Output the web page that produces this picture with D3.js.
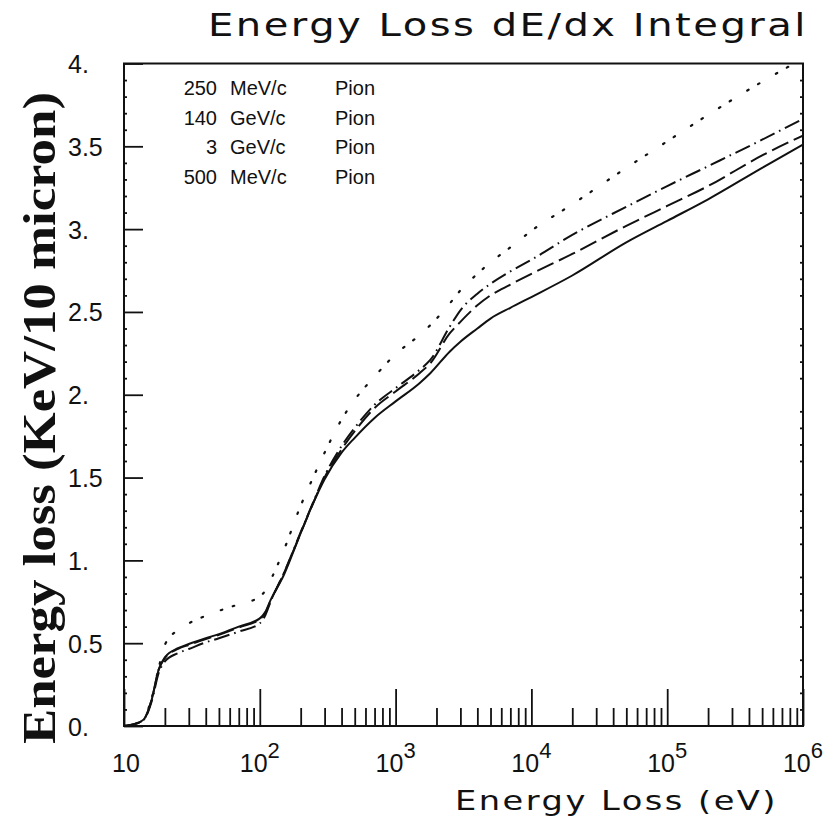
<!DOCTYPE html>
<html lang="en">
<head>
  <meta charset="UTF-8">
  <title>Energy Loss dE/dx Integral</title>
  <script src="https://d3js.org/d3.v7.min.js"></script>
  <style>
    body { margin: 0; background: #fff; }
    text { font-family: "Liberation Sans", Arial, sans-serif; fill: #111; }
  </style>
</head>
<body>

<div id="chart"></div>

<script>
// energy grid (eV) shared by all curves
const energies = [10, 12, 14, 16, 18, 20, 25, 30, 40, 50, 70, 100, 110, 120, 150, 200, 250, 300,
  400, 500, 700, 1000, 1500, 1800, 2500, 3000, 4000, 5000, 7000, 10000, 20000, 50000,
  1e5, 2e5, 5e5, 1e6];

// integral dE/dx (KeV / 10 micron)
const pion250MeV = [0, 0.012, 0.045, 0.17, 0.35, 0.49, 0.58, 0.62, 0.665, 0.695, 0.735, 0.78, 0.82, 0.88,
  1.06, 1.33, 1.51, 1.65, 1.85, 1.97, 2.11, 2.245, 2.36, 2.42, 2.55, 2.63, 2.73, 2.80, 2.89,
  2.99, 3.15, 3.37, 3.53, 3.69, 3.89, 4.03];
const pion140GeV = [0, 0.011, 0.038, 0.15, 0.32, 0.39, 0.44, 0.465, 0.505, 0.53, 0.57, 0.62, 0.67, 0.75,
  0.92, 1.17, 1.36, 1.51, 1.69, 1.80, 1.94, 2.04, 2.15, 2.21, 2.41, 2.51, 2.61, 2.67, 2.745,
  2.815, 2.965, 3.135, 3.26, 3.38, 3.54, 3.665];
const pion3GeV = [0, 0.012, 0.04, 0.16, 0.34, 0.41, 0.465, 0.49, 0.525, 0.55, 0.595, 0.645, 0.685, 0.755,
  0.92, 1.165, 1.355, 1.50, 1.67, 1.78, 1.92, 2.02, 2.13, 2.19, 2.37, 2.44, 2.54, 2.60, 2.665,
  2.73, 2.85, 3.02, 3.14, 3.26, 3.445, 3.565];
const pion500MeV = [0, 0.012, 0.04, 0.16, 0.34, 0.415, 0.47, 0.495, 0.53, 0.555, 0.60, 0.65, 0.69, 0.76,
  0.91, 1.165, 1.355, 1.49, 1.65, 1.74, 1.86, 1.96, 2.07, 2.13, 2.26, 2.32, 2.40, 2.46, 2.525,
  2.59, 2.72, 2.92, 3.05, 3.18, 3.37, 3.51];

const momenta = ["250", "140", "3", "500"];
const units = ["MeV/c", "GeV/c", "GeV/c", "MeV/c"];
const particles = ["Pion", "Pion", "Pion", "Pion"];

const xMajorTicks = [10, 1e2, 1e3, 1e4, 1e5, 1e6];
const xExponents = ["", "2", "3", "4", "5", "6"];
const yTicks = [0, 0.5, 1, 1.5, 2, 2.5, 3, 3.5, 4];
const yTickLabels = ["0.", "0.5", "1.", "1.5", "2.", "2.5", "3.", "3.5", "4."];

const width = 838, height = 826;
const plotLeft = 124, plotRight = 803, plotTop = 63.5, plotBottom = 726;

const x = d3.scaleLog().domain([10, 1e6]).range([plotLeft, plotRight]);
const y = d3.scaleLinear().domain([0, 4]).range([plotBottom, plotTop]);

const svg = d3.select("#chart").append("svg")
  .attr("width", width)
  .attr("height", height);

svg.append("clipPath").attr("id", "plot")
  .append("rect")
  .attr("x", plotLeft).attr("y", plotTop)
  .attr("width", plotRight - plotLeft).attr("height", plotBottom - plotTop);

// curves
const series = [
  { values: pion250MeV, dash: "1.6,11,1.6,19", dotted: true },
  { values: pion140GeV, dash: "16,5,1.6,5" },
  { values: pion3GeV, dash: "18,6" },
  { values: pion500MeV, dash: null }
];

const line = d3.line()
  .x(d => x(d[0]))
  .y(d => y(d[1]))
  .curve(d3.curveMonotoneX);

svg.append("g").attr("clip-path", "url(#plot)")
  .selectAll("path")
  .data(series)
  .join("path")
  .attr("d", s => line(energies.map((e, i) => [e, s.values[i]])))
  .attr("fill", "none")
  .attr("stroke", "#111")
  .attr("stroke-width", s => s.dotted ? 2.2 : 2)
  .attr("stroke-linecap", s => s.dotted ? "round" : "butt")
  .attr("stroke-dasharray", s => s.dash);

// x axis ticks (pointing up into the frame)
const xMinor = [];
for (let p = 1; p < 6; p++) for (let k = 2; k <= 9; k++) xMinor.push(k * Math.pow(10, p));

svg.append("g")
  .attr("transform", `translate(0,${plotBottom})`)
  .call(d3.axisBottom(x).tickValues(xMajorTicks).tickSize(-37).tickFormat(""));
svg.append("g")
  .attr("transform", `translate(0,${plotBottom})`)
  .call(d3.axisBottom(x).tickValues(xMinor).tickSize(-18).tickFormat(""));

// y axis ticks
const yMajAxis = svg.append("g")
  .attr("transform", `translate(${plotLeft},0)`)
  .call(d3.axisLeft(y).tickValues(yTicks).tickSize(-19)
    .tickFormat((d, i) => yTickLabels[i]).tickPadding(0));
yMajAxis.selectAll("text")
  .attr("text-anchor", "start")
  .attr("x", -56)
  .attr("dy", "0.36em")
  .style("font-size", "25px");

const yMinorVals = d3.range(0.1, 4, 0.1).filter(v => Math.abs(v * 2 - Math.round(v * 2)) > 0.01);
svg.append("g")
  .attr("transform", `translate(${plotLeft},0)`)
  .call(d3.axisLeft(y).tickValues(yMinorVals).tickSize(-3).tickFormat(""));
svg.append("g")
  .attr("transform", `translate(${plotRight},0)`)
  .call(d3.axisRight(y).tickValues(yMinorVals).tickSize(-3).tickFormat(""));

svg.selectAll(".domain").remove();
svg.selectAll(".tick line").attr("stroke", "#111").attr("stroke-width", 1.8);

// frame
svg.append("rect")
  .attr("x", plotLeft).attr("y", plotTop)
  .attr("width", plotRight - plotLeft).attr("height", plotBottom - plotTop)
  .attr("fill", "none")
  .attr("stroke", "#111")
  .attr("stroke-width", 2);

// x tick labels with superscripts
const xl = svg.append("g").selectAll("text")
  .data(xMajorTicks)
  .join("text")
  .attr("x", d => x(d) + (d === 10 ? 2 : 0))
  .attr("y", 772)
  .attr("text-anchor", "middle")
  .style("font-size", "25px");
xl.append("tspan").text("10");
xl.append("tspan")
  .attr("dy", -14)
  .style("font-size", "22px")
  .text((d, i) => xExponents[i]);

// titles (wide stroke font in the original: mix extra spacing and glyph stretch)
svg.append("text")
  .attr("x", 208).attr("y", 36)
  .attr("textLength", 600)
  .attr("lengthAdjust", "spacingAndGlyphs")
  .style("font-family", "'DejaVu Sans', sans-serif")
  .style("letter-spacing", "2px")
  .style("font-size", "32px")
  .text("Energy Loss dE/dx Integral");

svg.append("text")
  .attr("x", 455).attr("y", 810)
  .attr("textLength", 323)
  .attr("lengthAdjust", "spacingAndGlyphs")
  .style("font-family", "'DejaVu Sans', sans-serif")
  .style("letter-spacing", "2px")
  .style("font-size", "27px")
  .text("Energy Loss (eV)");

svg.append("text")
  .attr("transform", "translate(55,418) rotate(-90)")
  .attr("text-anchor", "middle")
  .attr("textLength", 652)
  .attr("lengthAdjust", "spacingAndGlyphs")
  .style("font-family", "'Liberation Serif', 'Times New Roman', serif")
  .style("font-weight", "bold")
  .style("font-size", "46px")
  .text("Energy loss (KeV/10 micron)");

// legend (text only, as in the original)
const legend = svg.append("g").selectAll("g")
  .data(momenta)
  .join("g")
  .attr("transform", (d, i) => `translate(0,${95 + i * 29.5})`);
legend.append("text")
  .attr("x", 217).attr("text-anchor", "end")
  .style("font-size", "20px")
  .text(d => d);
legend.append("text")
  .attr("x", 230)
  .style("font-size", "20px")
  .text((d, i) => units[i]);
legend.append("text")
  .attr("x", 335)
  .style("font-size", "20px")
  .text((d, i) => particles[i]);
</script>

</body>
</html>
